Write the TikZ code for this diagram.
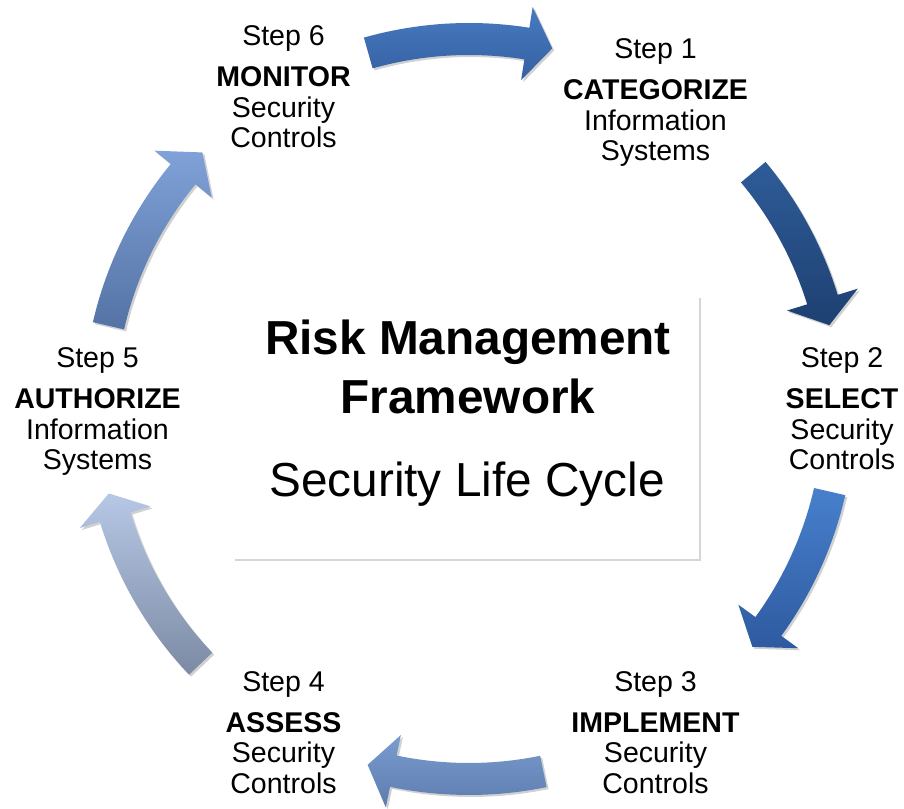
\documentclass[tikz,border=0pt]{standalone}
\usepackage{fontspec}
\setmainfont{Liberation Sans}
\usetikzlibrary{shadows}

% curved cycle arrow: tail angle, head-base angle, tip angle, top/bottom colour
\newcommand\cyclearrow[5]{%
  \shade[cyclearrowshape, top color=#4, bottom color=#5]
    (#1:386) arc[start angle=#1, end angle=#2, radius=386]
    -- (#2:407) -- (#3:370) -- (#2:333) -- (#2:354)
    arc[start angle=#2, end angle=#1, radius=354] -- cycle;}

% four-line step label: name, centre x, first baseline (px from top), lines
\newcommand\steplabel[7]{%
  \node[steptext] (#1a) at ({#2},{808-(#3)}) {#4};
  \node[steptext,font=\fontsize{21.4}{25}\selectfont\bfseries] (#1b) at ({#2},{808-(#3)-41}) {#5};
  \node[steptext] (#1c) at ({#2},{808-(#3)-71.5}) {#6};
  \node[steptext] (#1d) at ({#2},{808-(#3)-102}) {#7};}

\definecolor{aAt}{RGB}{72,122,192}\definecolor{aAb}{RGB}{52,96,162}
\definecolor{aBt}{RGB}{46,92,152}\definecolor{aBb}{RGB}{30,64,114}
\definecolor{aCt}{RGB}{72,128,204}\definecolor{aCb}{RGB}{46,90,160}
\definecolor{aDt}{RGB}{122,156,208}\definecolor{aDb}{RGB}{94,124,174}
\definecolor{aEt}{RGB}{182,200,230}\definecolor{aEb}{RGB}{124,138,164}
\definecolor{aFt}{RGB}{128,162,216}\definecolor{aFb}{RGB}{84,114,164}

\tikzset{
  steptext/.style={anchor=base, inner sep=0pt, font=\fontsize{21.4}{25}\selectfont},
  titletext/.style={anchor=base, inner sep=0pt},
  cyclearrowshape/.style={drop shadow={shadow xshift=1.5pt, shadow yshift=-1.5pt, opacity=0.18, fill=black}},
}

\begin{document}
\begin{tikzpicture}[x=0.75pt, y=0.75pt]
  \useasboundingbox (0,0) rectangle (904,808);
  \fill[white] (0,0) rectangle (904,808);

  % shadow edge of the central panel
  \draw[black!16, line width=2.2pt] (700,{808-298}) -- (700,{808-560}) -- (235,{808-560});

  % central title
  \node[titletext, font=\fontsize{35.8}{42}\selectfont\bfseries] (title1) at (468,{808-355}) {Risk Management};
  \node[titletext, font=\fontsize{35.8}{42}\selectfont\bfseries] (title2) at (468,{808-414}) {Framework};
  \node[titletext, font=\fontsize{35.8}{42}\selectfont] (title3) at (467,{808-497}) {Security Life Cycle};

  % the six arrows of the cycle
  \begin{scope}[shift={(469,399)}]
    \cyclearrow{105.8}{81}{77}{aAt}{aAb}
    \cyclearrow{39.8}{17.2}{13.1}{aBt}{aBb}
    \cyclearrow{-12.9}{-36}{-40}{aCt}{aCb}
    \cyclearrow{-78.4}{-101.8}{-105.9}{aDt}{aDb}
    \cyclearrow{223.5}{197}{193.2}{aEt}{aEb}
    \cyclearrow{167}{140.6}{136.1}{aFt}{aFb}
  \end{scope}

  % step labels
  \steplabel{six}{283.5}{46}{Step 6}{MONITOR}{Security}{Controls}
  \steplabel{one}{655.5}{59}{Step 1}{CATEGORIZE}{Information}{Systems}
  \steplabel{two}{842}{368}{Step 2}{SELECT}{Security}{Controls}
  \steplabel{three}{655.5}{691}{Step 3}{IMPLEMENT}{Security}{Controls}
  \steplabel{four}{283.5}{691}{Step 4}{ASSESS}{Security}{Controls}
  \steplabel{five}{97.5}{368}{Step 5}{AUTHORIZE}{Information}{Systems}
\end{tikzpicture}
\end{document}
